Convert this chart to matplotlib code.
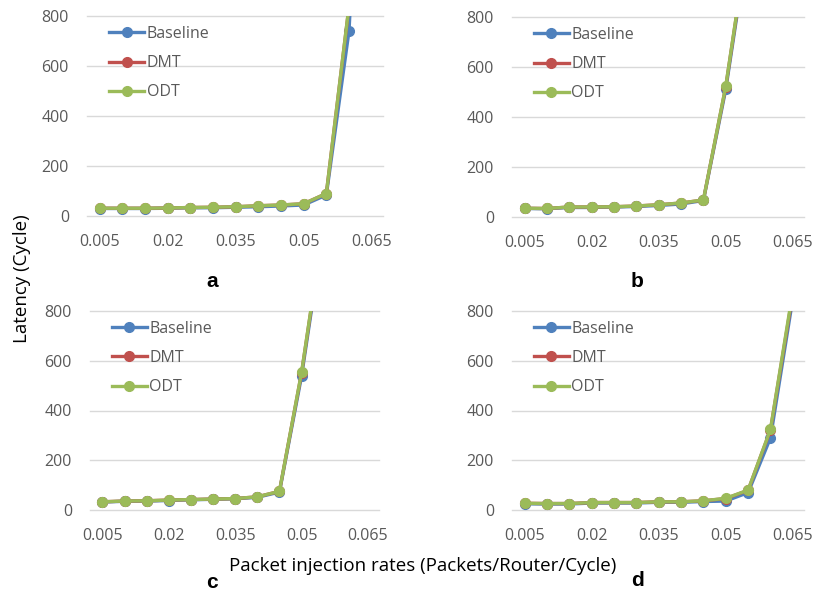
import matplotlib
matplotlib.use("Agg")
import matplotlib.pyplot as plt

plt.rcParams['font.family'] = ['Open Sans', 'DejaVu Sans']

# Packet injection rates (x categories)
rates = [0.005, 0.01, 0.015, 0.02, 0.025, 0.03, 0.035, 0.04, 0.045, 0.05, 0.055, 0.06, 0.065]
tick_rates = [0.005, 0.02, 0.035, 0.05, 0.065]
tick_labels = ["0.005", "0.02", "0.035", "0.05", "0.065"]
y_ticks = [0, 200, 400, 600, 800]

series_names = ["Baseline", "DMT", "ODT"]
series_colors = ["#4F81BD", "#C0504D", "#9BBB59"]

# Panel a
a_baseline = [30, 30, 30, 31, 33, 33, 35, 37, 40, 44, 84, 740, 2500]
a_dmt = [31, 31, 31, 32, 34, 35, 37, 41, 44, 49, 90, 838, 2650]
a_odt = [31, 31, 31, 32, 34, 35, 37, 41, 44, 49, 90, 840, 2700]

# Panel b
b_baseline = [34, 33, 38, 38, 40, 42, 46, 52, 66, 510, 1100]
b_dmt = [35, 34, 40, 40, 41, 44, 49, 56, 68, 521, 1115]
b_odt = [35, 34, 40, 40, 41, 44, 49, 56, 68, 523, 1120]

# Panel c
c_baseline = [32, 35, 36, 38, 41, 43, 45, 51, 72, 538, 1130]
c_dmt = [33, 36, 37, 40, 42, 44, 46, 53, 75, 551, 1145]
c_odt = [33, 36, 37, 40, 42, 44, 46, 53, 75, 553, 1150]

# Panel d
d_baseline = [25, 24, 24, 28, 28, 28, 31, 31, 34, 36, 70, 290, 850]
d_dmt = [27, 26, 26, 30, 30, 30, 33, 33, 37, 46, 79, 322, 870]
d_odt = [27, 26, 26, 30, 30, 30, 33, 33, 37, 47, 80, 324, 880]

panels = [
    ("a", [a_baseline, a_dmt, a_odt]),
    ("b", [b_baseline, b_dmt, b_odt]),
    ("c", [c_baseline, c_dmt, c_odt]),
    ("d", [d_baseline, d_dmt, d_odt]),
]

W, H = 814, 594
# axes rectangles in pixels: left, right, top(800), bottom(0)
boxes = [(87, 383, 16, 216), (512, 804, 17, 217), (90, 379, 311, 510), (512, 804, 311, 510)]
letter_pos = [(212, 282), (637, 282), (212, 583), (637, 581)]

fig = plt.figure(figsize=(W / 100, H / 100), dpi=100)

for (letter, data), (l, r, t, b), (lx, ly) in zip(panels, boxes, letter_pos):
    ax = fig.add_axes([l / W, 1 - b / H, (r - l) / W, (b - t) / H])
    for name, color, vals in zip(series_names, series_colors, data):
        ax.plot(rates[:len(vals)], vals, color=color, lw=2.4, marker='o',
                markersize=7, label=name, zorder=3)
    for y in y_ticks:
        ax.axhline(y, color="#D9D9D9", lw=1, zorder=0, clip_on=False)
    ax.set_xlim(0.0022, 0.0675)
    ax.set_ylim(0, 800)
    ax.set_xticks(tick_rates)
    ax.set_xticklabels(tick_labels)
    ax.set_yticks(y_ticks)
    ax.tick_params(length=0, labelsize=11.5, colors="#595959")
    ax.tick_params(axis='x', pad=13)
    ax.tick_params(axis='y', pad=13)
    for s in ax.spines.values():
        s.set_visible(False)
    leg = ax.legend(loc='upper left', bbox_to_anchor=(0.075, 0.95), frameon=False,
                    fontsize=11.5, handlelength=2.2, handletextpad=0.15,
                    labelspacing=0.82, borderpad=0, borderaxespad=0)
    for txt in leg.get_texts():
        txt.set_color("#595959")
    fig.text(lx / W, 1 - ly / H, letter, fontsize=15, fontweight='bold',
             family='Liberation Sans', ha='center', va='center')

fig.text(423 / W, 1 - 566 / H, "Packet injection rates (Packets/Router/Cycle)",
         fontsize=13.5, ha='center', va='center')
fig.text(22 / W, 1 - 279 / H, "Latency (Cycle)", fontsize=13.5, rotation=90,
         ha='center', va='center')

fig.savefig("out.png", dpi=100)
